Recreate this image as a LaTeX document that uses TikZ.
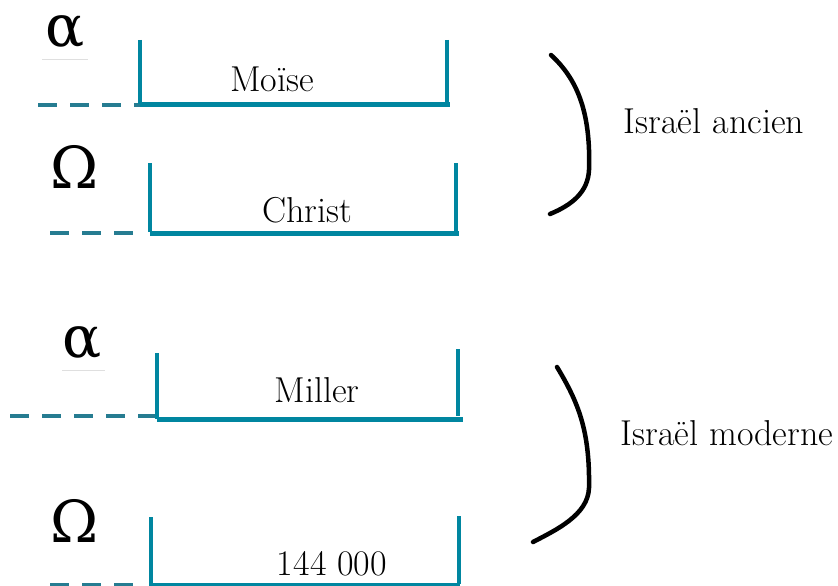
\documentclass[tikz,border=0pt]{standalone}
\usepackage{fontspec}
\newfontfamily\greekfont{DejaVu Serif}
\usepackage{tikz}
\usetikzlibrary{calc}
\definecolor{barcol}{RGB}{0,134,160}
\definecolor{dashcol}{RGB}{38,124,145}

\begin{document}
\begin{tikzpicture}[x=1pt, y=-1pt,
    side/.style={draw=barcol, line width=3.5pt},
    floor/.style={draw=barcol, line width=5pt},
    tail/.style={draw=dashcol, line width=3.5pt, dash pattern=on 19pt off 13pt},
    word/.style={anchor=base, inner sep=0pt, font=\fontsize{36}{40}\selectfont},
    sym/.style={anchor=base, inner sep=0pt, font=\greekfont\fontsize{58}{62}\selectfont},
    brace/.style={draw=black, line width=4.5pt, line cap=round}]

      \useasboundingbox (0,0) rectangle (838,586);

      % Israel ancien
      \node [sym] (alpha1) at (65,47) {α};
      \draw [gray!25, line width=0.6pt] (42,59) -- (88,59);
      \draw [tail] (38,105) -- (140,105);
      \draw [side] (140,40) -- (140,104);
      \draw [side] (447,40) -- (447,102);
      \draw [floor] (140,104) -- (450,104);
      \node [word] (moise) at (272,92) {Moïse};

      \node [sym] (omega1) at (75,188) {Ω};
      \draw [tail] (50,233) -- (136,233);
      \draw [side] (150,163) -- (150,232);
      \draw [side] (456,163) -- (456,231);
      \draw [floor] (150,233) -- (459,233);
      \node [word] (christ) at (307,222) {Christ};

      \draw [brace] (551,55) .. controls (576,78) and (591,110) .. (589,170)
      .. controls (588,192) and (572,205) .. (550,214);
      \node [word] (ancien) at (714,133) {Israël ancien};

      % Israel moderne
      \node [sym] (alpha2) at (82,357) {α};
      \draw [gray!25, line width=0.6pt] (62,370) -- (105,370);
      \draw [tail] (10,416) -- (156,416);
      \draw [side] (157,353) -- (157,419);
      \draw [side] (458,349) -- (458,416);
      \draw [floor] (157,419) -- (463,419);
      \node [word] (miller) at (317,402) {Miller};

      \node [sym] (omega2) at (75,542) {Ω};
      \draw [tail] (50,585) -- (136,585);
      \draw [side] (151,517) -- (151,586);
      \draw [side] (459,516) -- (459,584);
      \draw [floor] (151,585) -- (460,585);
      \node [word] (millers) at (332,575) {144 000};

      \draw [brace] (557,367) .. controls (578,402) and (590,430) .. (589,488)
      .. controls (588,515) and (556,530) .. (533,542);
      \node [word] (moderne) at (727,445) {Israël moderne};

    \end{tikzpicture}
\end{document}
